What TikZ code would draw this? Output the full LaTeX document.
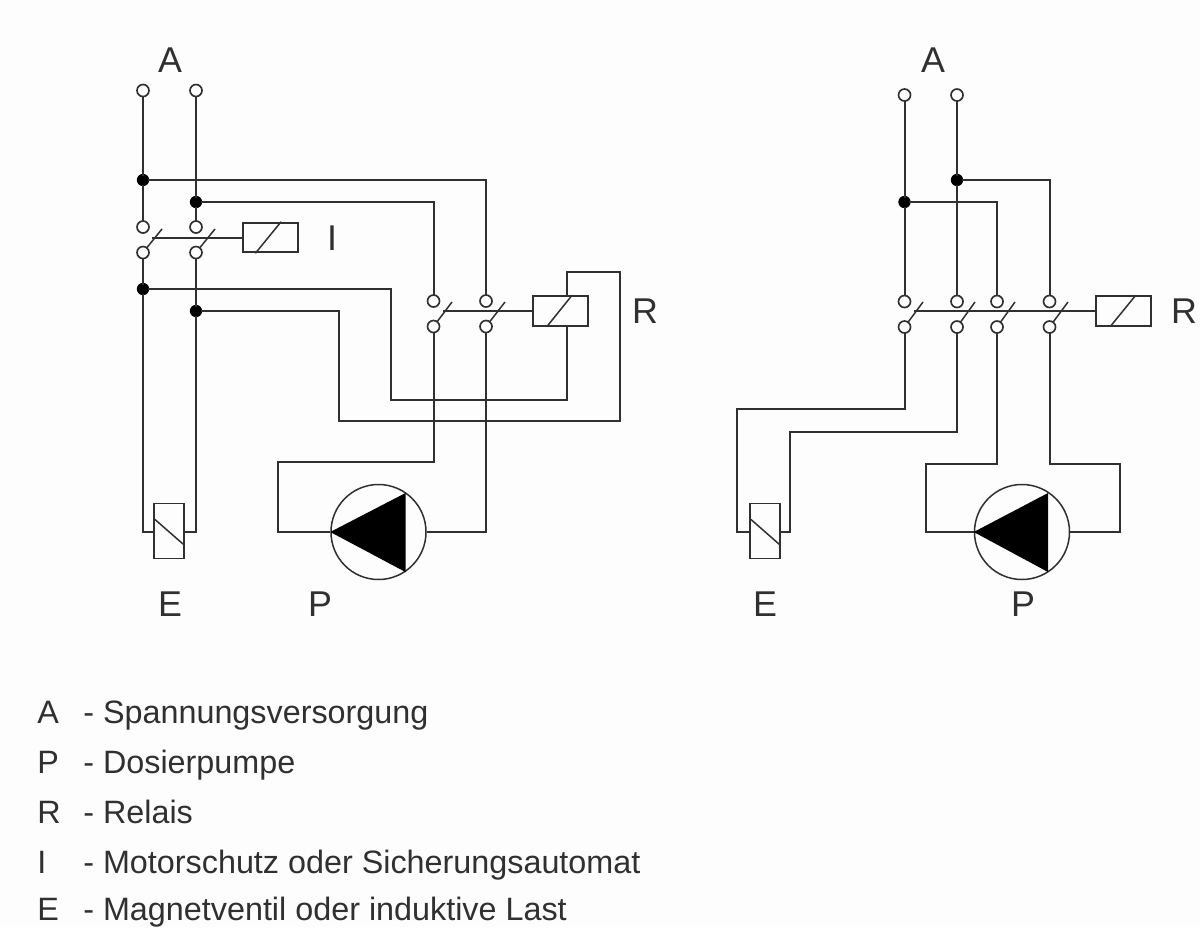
\documentclass[tikz,border=0pt]{standalone}
\usepackage{fontspec}
\setmainfont{Liberation Sans}
\definecolor{bgc}{HTML}{FDFDFD}
\definecolor{wirec}{HTML}{303030}
\definecolor{txtc}{HTML}{303030}
\tikzset{
  wire/.style={draw=wirec,line width=1.2pt,line join=miter},
  thin wire/.style={draw=wirec,line width=.9pt},
  term/.style={circle,draw=wirec,line width=1pt,fill=white,inner sep=0pt,outer sep=0pt,minimum size=7.2pt},
  dotj/.style={circle,fill=black,inner sep=0pt,outer sep=-1pt,minimum size=7.4pt},
  coil/.style={rectangle,draw=wirec,line width=1.1pt,inner sep=0pt,minimum width=33pt,minimum height=17.8pt},
  valve/.style={rectangle,draw=wirec,line width=.95pt,fill=bgc,inner sep=0pt,minimum width=18pt,minimum height=33pt},
  pumpc/.style={circle,draw=wirec,line width=.9pt,inner sep=0pt,minimum size=57pt},
  biglabel/.style={text=txtc,font=\fontsize{21.5}{24}\selectfont,inner sep=0pt},
  legend/.style={text=txtc,font=\fontsize{19.4}{22}\selectfont,inner sep=0pt,anchor=base west}
}
\begin{document}
\begin{tikzpicture}[x=0.6pt,y=-0.6pt]
\useasboundingbox (0,0) rectangle (1200,927);
\fill[bgc] (0,0) rectangle (1200,927);

% ---------- left circuit ----------
\node[term] (ta) at (143,90.5) {};
\node[term] (tb) at (196,90.5) {};
\node[dotj] (ja) at (143,180) {};
\node[dotj] (jb) at (196,202) {};
\node[term] (ia1) at (143,227) {};
\node[term] (ib1) at (196,227) {};
\node[term] (ia2) at (143,252.5) {};
\node[term] (ib2) at (196,252.5) {};
\node[dotj] (jc) at (143,289) {};
\node[dotj] (jd) at (196,311) {};
\node[coil] (ci) at (270.5,237.5) {};
\node[term] (ra1) at (433.5,301) {};
\node[term] (rb1) at (486,301) {};
\node[term] (ra2) at (433.5,326.5) {};
\node[term] (rb2) at (486,326.5) {};
\node[coil] (cr) at (560.5,311) {};
\node[valve] (ve) at (169,531) {};
\node[pumpc] (pu) at (378.5,532) {};

\draw[wire] (ta) -- (ja);
\draw[wire] (ja) -- (ia1);
\draw[wire] (tb) -- (jb);
\draw[wire] (jb) -- (ib1);
\draw[wire] (ia2) -- (jc);
\draw[wire] (ib2) -- (jd);
\draw[wire] (ja) -| (rb1);
\draw[wire] (jb) -| (ra1);

\coordinate (bia) at (152,237.5);
\draw[wire] (bia) -- (ci.west);
\draw[thin wire] (ia2) -- (162,229);
\draw[thin wire] (ib2) -- (215,229);
\draw[thin wire] ([xshift=8pt]ci.south west) -- ([xshift=23.4pt]ci.north west);

\coordinate (cc1) at (391,289);
\coordinate (cc2) at (391,399.5);
\coordinate (cc3) at (567,399.5);
\draw[wire] (jc) -- (cc1) -- (cc2) -- (cc3) -- (cc3 |- cr.south);
\coordinate (cd1) at (339,311);
\coordinate (cd2) at (339,421);
\coordinate (cd3) at (620,421);
\coordinate (cd4) at (620,271.5);
\coordinate (cd5) at (567,271.5);
\draw[wire] (jd) -- (cd1) -- (cd2) -- (cd3) -- (cd4) -- (cd5) -- (cd5 |- cr.north);

\coordinate (bra) at (443,311);
\draw[wire] (bra) -- (cr.west);
\draw[thin wire] (ra2) -- (452,302);
\draw[thin wire] (rb2) -- (505,302);
\draw[thin wire] ([xshift=8.8pt]cr.south west) -- ([xshift=24pt]cr.north west);

% valve and pump, left
\coordinate (ve1) at (143,532);
\coordinate (ve2) at (196,532);
\draw[wire] (jc) -- (ve1) -- (ve.west |- ve1);
\draw[wire] (jd) -- (ve2) -- (ve.east |- ve2);
\draw[thin wire] (155,519.5) -- (183,544);

\coordinate (pa1) at (433.5,462);
\coordinate (pa2) at (278,462);
\coordinate (pa3) at (278,532);
\draw[wire] (ra2) -- (pa1) -- (pa2) -- (pa3) -- (pu.west);
\coordinate (pb1) at (486,532);
\draw[wire] (rb2) -- (pb1) -- (pu.east);
\fill[black] (pu.west) -- (405.5,493) -- (405.5,572) -- cycle;

% ---------- right circuit ----------
\node[term] (tc) at (904.5,95) {};
\node[term] (td) at (957,95) {};
\node[dotj] (je) at (904.5,202) {};
\node[dotj] (jf) at (957,180) {};
\node[term] (s1a) at (904.5,301.5) {};
\node[term] (s2a) at (957,301.5) {};
\node[term] (s3a) at (997,301.5) {};
\node[term] (s4a) at (1049.5,301.5) {};
\node[term] (s1b) at (904.5,327) {};
\node[term] (s2b) at (957,327) {};
\node[term] (s3b) at (997,327) {};
\node[term] (s4b) at (1049.5,327) {};
\node[coil] (cs) at (1123.5,311) {};
\node[valve] (vf) at (765,531) {};
\node[pumpc] (pv) at (1022,532) {};

\draw[wire] (tc) -- (je);
\draw[wire] (je) -- (s1a);
\draw[wire] (td) -- (jf);
\draw[wire] (jf) -- (s2a);
\draw[wire] (jf) -| (s4a);
\draw[wire] (je) -| (s3a);

\coordinate (bs) at (914,311);
\draw[wire] (bs) -- (cs.west);
\draw[thin wire] (s1b) -- (923,302);
\draw[thin wire] (s2b) -- (975,302);
\draw[thin wire] (s3b) -- (1015,302);
\draw[thin wire] (s4b) -- (1068,302);
\draw[thin wire] ([xshift=9pt]cs.south west) -- ([xshift=24.4pt]cs.north west);

\coordinate (e1) at (904.5,409);
\coordinate (e2) at (737,409);
\coordinate (e3) at (737,532);
\draw[wire] (s1b) -- (e1) -- (e2) -- (e3) -- (vf.west |- e3);
\coordinate (f1) at (957,432);
\coordinate (f2) at (790,432);
\coordinate (f3) at (790,532);
\draw[wire] (s2b) -- (f1) -- (f2) -- (f3) -- (vf.east |- f3);
\draw[thin wire] (751,519.5) -- (779.5,544.5);

\coordinate (g1) at (997,464);
\coordinate (g2) at (926,464);
\coordinate (g3) at (926,532);
\draw[wire] (s3b) -- (g1) -- (g2) -- (g3) -- (pv.west);
\coordinate (h1) at (1049.5,464);
\coordinate (h2) at (1120,464);
\coordinate (h3) at (1120,532);
\draw[wire] (s4b) -- (h1) -- (h2) -- (h3) -- (pv.east);
\fill[black] (pv.west) -- (1048,493) -- (1048,572) -- cycle;

% ---------- labels ----------
\node[biglabel] (la) at (170,60) {A};
\node[biglabel] (li) at (332,238) {I};
\node[biglabel] (lr) at (645,311) {R};
\node[biglabel] (le) at (170,604) {E};
\node[biglabel] (lp) at (320,604) {P};
\node[biglabel] (lb) at (933,60) {A};
\node[biglabel] (ls) at (1184,311) {R};
\node[biglabel] (lf) at (765,604) {E};
\node[biglabel] (lq) at (1023,604) {P};

% ---------- legend ----------
\node[legend] (k1) at (37,723) {A};
\node[legend] (d1) at (83,723) {- Spannungsversorgung};
\node[legend] (k2) at (37,773) {P};
\node[legend] (d2) at (83,773) {- Dosierpumpe};
\node[legend] (k3) at (37,823) {R};
\node[legend] (d3) at (83,823) {- Relais};
\node[legend] (k4) at (37,873) {I};
\node[legend] (d4) at (83,873) {- Motorschutz oder Sicherungsautomat};
\node[legend] (k5) at (37,920) {E};
\node[legend] (d5) at (83,920) {- Magnetventil oder induktive Last};
\end{tikzpicture}
\end{document}
